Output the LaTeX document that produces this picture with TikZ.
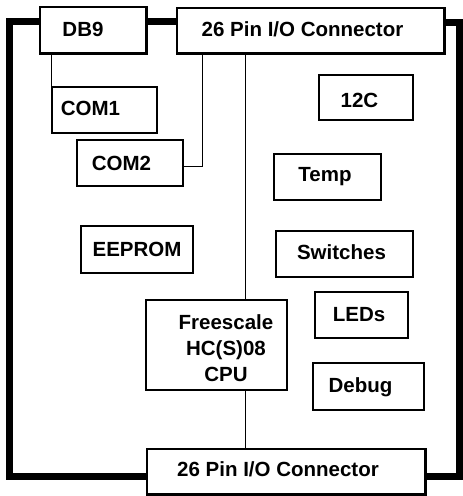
\documentclass[tikz,border=0pt]{standalone}
\usepackage{fontspec}
\setmainfont{Liberation Sans}
\begin{document}
\begin{tikzpicture}[x=1pt,y=-1pt,
  box/.style={draw=black,line width=1.5pt,fill=white,inner sep=0pt,rectangle},
  txt/.style={font=\bfseries\fontsize{20.5}{24}\selectfont,inner sep=0pt,anchor=base},
  wire/.style={draw=black,line width=0.9pt},
  busline/.style={draw=black,line width=7pt,line join=miter},
  border/.style={draw=black,line width=1.5pt}]
\useasboundingbox (0,0) rectangle (463,496);
% coordinates for bus routing
\coordinate (leftc) at (9.5,250);
\coordinate (rightc) at (459.5,250);
\coordinate (busx) at (245,250);
% boxes
\node[box,minimum width=106,minimum height=46] (db9) at (93,30) {};
\node[box,minimum width=267,minimum height=45] (topc) at (310.5,30.5) {};
\node[box,minimum width=105,minimum height=46] (com1) at (104.5,110) {};
\node[box,minimum width=106,minimum height=46] (com2) at (130,163) {};
\node[box,minimum width=94,minimum height=45] (i2c) at (366,97.5) {};
\node[box,minimum width=107,minimum height=46] (temp) at (327.5,177) {};
\node[box,minimum width=112,minimum height=47] (eeprom) at (137,249.5) {};
\node[box,minimum width=137,minimum height=46] (sw) at (344.5,254) {};
\node[box,minimum width=93,minimum height=46] (leds) at (361.5,315) {};
\node[box,minimum width=111,minimum height=47] (debug) at (368.5,386.5) {};
\node[box,minimum width=141,minimum height=90] (cpu) at (216.5,345) {};
\node[box,minimum width=278,minimum height=45] (botc) at (286,471.5) {};
% thick bus lines
\draw[busline] ([yshift=8.5pt]db9.west) -| (leftc) |- ([yshift=-4.5pt]botc.west);
\draw[busline] ([yshift=8.5pt]topc.east) -| (rightc) |- ([yshift=-4.5pt]botc.east);
\draw[busline] ([yshift=8.5pt]db9.east) -- ([yshift=9pt]topc.west);
% thin connectors
\draw[wire] (com1.north west) -- (com1.north west |- db9.south);
\draw[wire] ([yshift=-3pt]com2.east) -| ([xshift=26pt]topc.south west);
\draw[wire] (topc.south -| busx) -- (cpu.north -| busx);
\draw[wire] (cpu.south -| busx) -- (botc.north -| busx);
% redraw connector box borders over the bus line ends
\foreach \n in {db9,topc,botc}{\draw[border] (\n.south west) rectangle (\n.north east);}
% texts
\node[txt] (db9t) at (83,36.5) {DB9};
\node[txt] (topct) at (302.5,36) {26 Pin I/O Connector};
\node[txt] (com1t) at (90.5,115) {COM1};
\node[txt] (com2t) at (121.5,170) {COM2};
\node[txt] (i2ct) at (359.5,107) {12C};
\node[txt] (tempt) at (325,181) {Temp};
\node[txt] (eepromt) at (137,256.5) {EEPROM};
\node[txt] (swt) at (341.5,259.5) {Switches};
\node[txt] (ledst) at (359,321) {LEDs};
\node[txt] (debugt) at (360.5,392) {Debug};
\node[txt] (cpu1) at (226,329.5) {Freescale};
\node[txt] (cpu2) at (226,355.5) {HC(S)08};
\node[txt] (cpu3) at (226,381) {CPU};
\node[txt] (botct) at (278,476) {26 Pin I/O Connector};
\end{tikzpicture}
\end{document}
